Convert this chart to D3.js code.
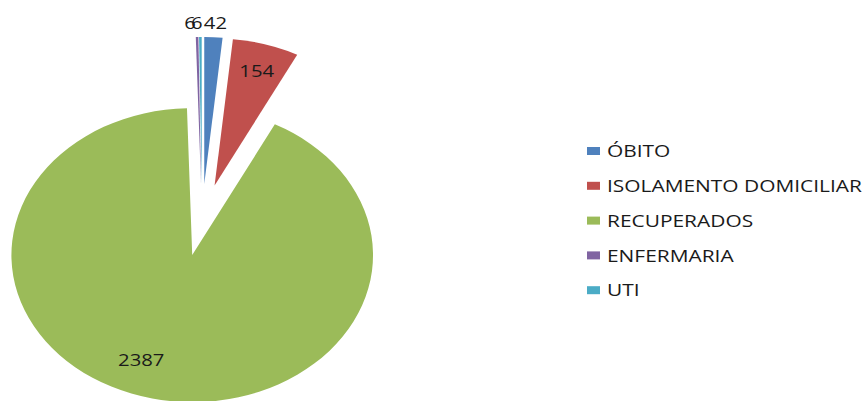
<!DOCTYPE html>
<html>
<head>
<meta charset="utf-8">
<script src="https://cdn.jsdelivr.net/npm/d3@7"></script>
<style>
  body { margin: 0; background: #fff; }
  text { font-family: "Open Sans", "Noto Sans", sans-serif; fill: #1a1a1a; }
</style>
</head>
<body>
<script>
// data
var categories = ["ÓBITO", "ISOLAMENTO DOMICILIAR", "RECUPERADOS", "ENFERMARIA", "UTI"];
var values = [42, 154, 2387, 6, 6];
var colors = ["#4F81BD", "#C0504D", "#9BBB59", "#8064A2", "#4BACC6"];

var svgWidth = 864;
var svgHeight = 401;

// the original picture is stretched sideways, so the pie is an ellipse and the text is wide
var center = {x: 202, y: 220};
var radius = 147;
var stretch = 1.23;
var explode = 36;

var svg = d3.select("body")
  .append("svg")
  .attr("width", svgWidth)
  .attr("height", svgHeight);

var rows = categories.map(function(c, i) {
  return {name: c, value: values[i], color: colors[i]};
});

var pie = d3.pie()
  .sort(null)
  .value(d => d.value);

var arc = d3.arc()
  .innerRadius(0)
  .outerRadius(radius);

var slices = pie(rows);

function mid(d) { return (d.startAngle + d.endAngle) / 2; }

// screen offset of each exploded slice
function offset(d, r) {
  var a = mid(d);
  return [Math.sin(a) * r * stretch, -Math.cos(a) * r];
}

var pieG = svg.append("g");

pieG.selectAll("path")
  .data(slices)
  .enter()
  .append("path")
  .attr("transform", function(d) {
    var o = offset(d, explode);
    return `translate(${center.x + o[0]}, ${center.y + o[1]}) scale(${stretch}, 1)`;
  })
  .attr("d", arc)
  .attr("fill", d => d.data.color);

// label spot: radius factor and small angle nudge (degrees), per slice
var labelSpot = [[1.1, 0.3], [0.82, 0], [0.76, 9], [1.1, -1.9], [1.1, -1.0]];

function labelXY(d, i) {
  var o = offset(d, explode);
  var a = mid(d) + labelSpot[i][1] * Math.PI / 180;
  return [center.x + o[0] + Math.sin(a) * radius * labelSpot[i][0] * stretch,
          center.y + o[1] - Math.cos(a) * radius * labelSpot[i][0]];
}

svg.append("g")
  .selectAll("text")
  .data(slices)
  .enter()
  .append("text")
  .attr("transform", function(d, i) {
    var p = labelXY(d, i);
    return `translate(${p[0]}, ${p[1]}) scale(${stretch}, 1)`;
  })
  .attr("text-anchor", "middle")
  .attr("dominant-baseline", "central")
  .style("font-size", "16.5px")
  .text(d => d.data.value);

// legend
var legend = svg.append("g")
  .attr("transform", "translate(587, 151)");

var item = legend.selectAll("g")
  .data(rows)
  .enter()
  .append("g")
  .attr("transform", (d, i) => `translate(0, ${i * 34.8})`);

item.append("rect")
  .attr("x", 0)
  .attr("y", -4)
  .attr("width", 13)
  .attr("height", 8)
  .attr("fill", d => d.color);

item.append("text")
  .attr("transform", `translate(20, 0) scale(${stretch}, 1)`)
  .attr("dominant-baseline", "central")
  .style("font-size", "17px")
  .text(d => d.name);
</script>
</body>
</html>
